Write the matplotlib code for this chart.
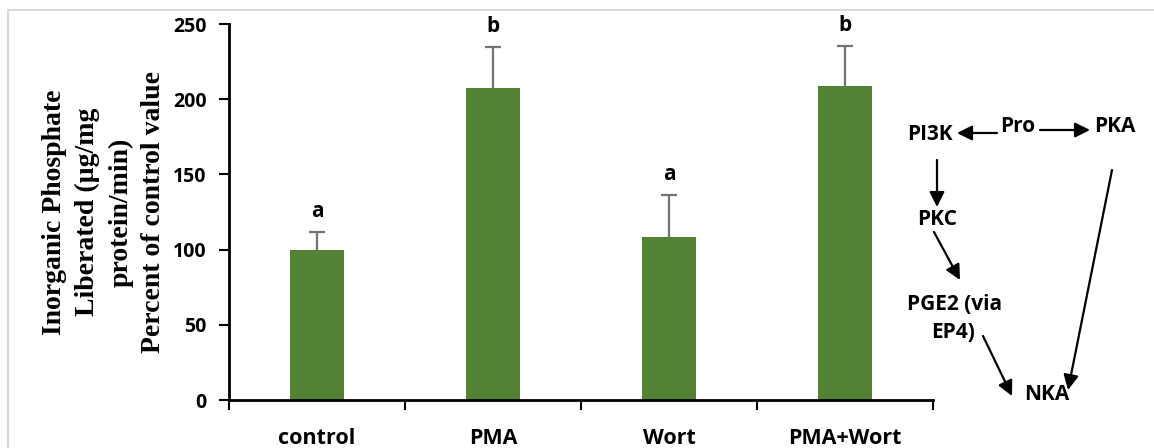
import matplotlib
matplotlib.use("Agg")
import matplotlib.pyplot as plt
from matplotlib.patches import Rectangle, FancyArrowPatch

categories = ["control", "PMA", "Wort", "PMA+Wort"]
values = [100, 207.5, 108.5, 209]
errors = [12, 27, 27.5, 26.5]
letters = ["a", "b", "a", "b"]
yticks = [0, 50, 100, 150, 200, 250]

SANS = "Open Sans"
W, H = 1154, 448
fig = plt.figure(figsize=(W / 100, H / 100), dpi=100)

# light frame around the whole panel
fig.patches.append(Rectangle((8 / W, -0.1), 1.2, 1.1 - 10 / H,
                             transform=fig.transFigure, fill=False,
                             edgecolor="#d9d9d9", linewidth=1.5))

ax = fig.add_axes([229 / W, 1 - 400 / H, (933 - 229) / W, (400 - 24) / H])
x = [i + 0.5 for i in range(len(categories))]
ax.bar(x, values, width=0.31, color="#548235", zorder=2)
eb = ax.errorbar(x, values, yerr=[[0] * len(errors), errors], fmt="none",
                 ecolor="#737373", elinewidth=1.6, capsize=6, capthick=1.6, zorder=1)
# keep only the upper caps
eb[1][0].set_visible(False)
for xi, v, e, lab in zip(x, values, errors, letters):
    ax.text(xi, v + e + 10, lab, ha="center", va="baseline",
            fontsize=15, fontweight="bold", family=SANS)

ax.set_xlim(0, 4)
ax.set_ylim(0, 250)
ax.set_yticks(yticks)
ax.set_yticklabels([str(t) for t in yticks], fontsize=14, fontweight="bold", family=SANS)
ax.set_xticks(range(5))
ax.set_xticklabels([])
ax.set_xticks(x, minor=True)
ax.set_xticklabels(categories, minor=True, fontsize=15.5, fontweight="bold", family=SANS)
ax.tick_params(axis="x", which="minor", length=0, pad=20)
ax.tick_params(axis="x", which="major", length=7, width=1.5, direction="out")
ax.tick_params(axis="y", length=7, width=1.5, direction="out", pad=9)
for s in ["top", "right"]:
    ax.spines[s].set_visible(False)
for s in ["left", "bottom"]:
    ax.spines[s].set_linewidth(2)

ax.set_ylabel("Inorganic Phosphate\nLiberated (µg/mg\nprotein/min)\nPercent of control value",
              fontsize=20, fontweight="bold", family="Liberation Serif",
              linespacing=1.42, labelpad=5)

# signalling pathway sketch
def px(xp, yp):
    return (xp / W, 1 - yp / H)

kw = dict(fontsize=15, fontweight="bold", family=SANS,
          ha="center", va="center", transform=fig.transFigure)
fig.text(*px(1018, 126), "Pro", **kw)
fig.text(*px(930, 134), "PI3K", **kw)
fig.text(*px(1115, 126), "PKA", **kw)
fig.text(*px(937, 219), "PKC", **kw)
fig.text(*px(955, 305), "PGE2 (via", **kw)
fig.text(*px(953, 333), "EP4)", **kw)
fig.text(*px(1047, 394), "NKA", **kw)

arrows = [((997, 133), (957, 133)),
          ((1040, 130), (1090, 130)),
          ((937, 160), (937, 207)),
          ((934, 232), (960, 280)),
          ((983, 336), (1012, 396)),
          ((1112, 170), (1068, 390))]
for (x0, y0), (x1, y1) in arrows:
    fig.patches.append(FancyArrowPatch(px(x0, y0), px(x1, y1),
                                       transform=fig.transFigure,
                                       arrowstyle="-|>,head_length=9,head_width=4.5",
                                       color="black", linewidth=1.6,
                                       shrinkA=0, shrinkB=0))

fig.savefig("out.png", dpi=100)
